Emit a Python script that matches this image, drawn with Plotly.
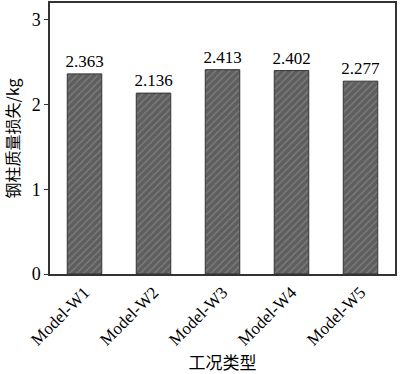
import plotly.graph_objects as go

categories = ["Model-W1", "Model-W2", "Model-W3", "Model-W4", "Model-W5"]
mass_loss = [2.363, 2.136, 2.413, 2.402, 2.277]
value_labels = ["2.363", "2.136", "2.413", "2.402", "2.277"]
y_ticks = [0, 1, 2, 3]

serif = "Liberation Serif, Times New Roman, serif"

fig = go.Figure(go.Bar(
    x=categories, y=mass_loss, width=0.5,
    text=value_labels, textposition="outside", constraintext="none",
    textfont=dict(family=serif, size=17, color="black"),
    cliponaxis=False,
    marker=dict(color="#5e5e5e",
                line=dict(color="#333333", width=1),
                pattern=dict(shape="/", fgcolor="#a0a0a0", bgcolor="#5e5e5e",
                             size=5, solidity=0.25)),
))

fig.update_layout(
    width=400, height=374,
    margin=dict(l=50, r=5, t=1, b=100),
    plot_bgcolor="white", paper_bgcolor="white",
    showlegend=False,
    font=dict(family=serif, color="black"),
    xaxis=dict(
        showline=True, linecolor="#333333", linewidth=1.5, mirror=True,
        ticks="", tickangle=-45, tickfont=dict(family=serif, size=17, color="black"),
        title=dict(text="工况类型", font=dict(family="Noto Sans CJK SC", size=17, color="black"), standoff=4),
    ),
    yaxis=dict(
        range=[0, 3.2], tickvals=y_ticks,
        showline=True, linecolor="#333333", linewidth=1.5, mirror=True,
        ticks="outside", ticklen=4, tickcolor="#333333",
        showgrid=False, zeroline=False,
        tickfont=dict(family=serif, size=18, color="black"),
        title=dict(text="钢柱质量损失/kg", font=dict(family="Noto Sans CJK SC", size=16, color="black"), standoff=8),
    ),
)

fig.write_html("out.html")
